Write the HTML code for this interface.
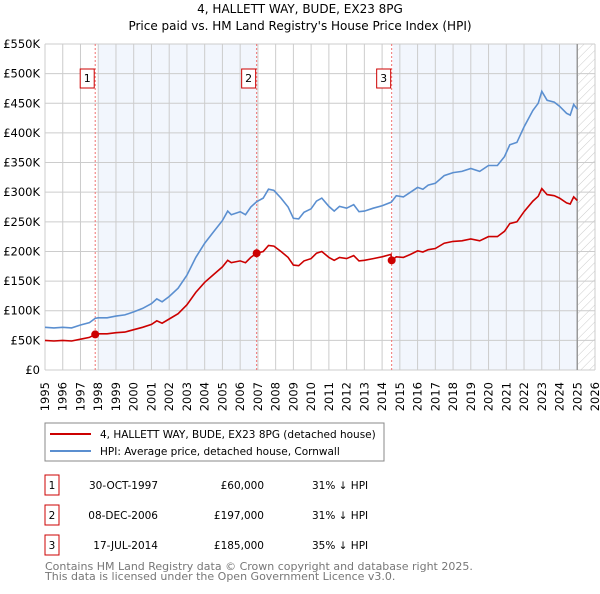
<!DOCTYPE html>
<html><head><meta charset="utf-8"><style>
body{margin:0;background:#fff;font-family:"DejaVu Sans","Liberation Sans",sans-serif;}
svg text{font-family:"DejaVu Sans","Liberation Sans",sans-serif;}
</style></head><body>
<svg id="c" width="600" height="590" viewBox="0 0 600 590" xmlns="http://www.w3.org/2000/svg">
<defs><pattern id="hatch" width="6" height="6" patternUnits="userSpaceOnUse" patternTransform="rotate(45)"><line x1="0" y1="0" x2="0" y2="6" stroke="#ccc" stroke-width="1"/></pattern></defs>
<text x="300" y="13" text-anchor="middle" font-size="12">4, HALLETT WAY, BUDE, EX23 8PG</text>
<text x="300" y="30" text-anchor="middle" font-size="12">Price paid vs. HM Land Registry's House Price Index (HPI)</text>
<g id="grid"></g><g id="marks"></g>
<rect x="45" y="423" width="339" height="38" fill="#fff" stroke="#888"/>
<line x1="50" y1="434" x2="91" y2="434" stroke="#cc0000" stroke-width="2"/>
<text x="100" y="438" font-size="10.5">4, HALLETT WAY, BUDE, EX23 8PG (detached house)</text>
<line x1="50" y1="451" x2="91" y2="451" stroke="#5b8fd0" stroke-width="2"/>
<text x="100" y="455" font-size="10.5">HPI: Average price, detached house, Cornwall</text>
<g id="table" font-size="10.5"></g>
<text x="45" y="570" font-size="11" fill="#777">Contains HM Land Registry data © Crown copyright and database right 2025.</text>
<text x="45" y="580" font-size="11" fill="#777">This data is licensed under the Open Government Licence v3.0.</text>
</svg>
<script>
const years=[1995,1995.5,1996,1996.5,1997,1997.5,1997.83,1998,1998.5,1999,1999.5,2000,2000.5,2001,2001.3,2001.6,2002,2002.5,2003,2003.5,2004,2004.5,2005,2005.3,2005.5,2006,2006.3,2006.6,2006.93,2007.3,2007.6,2007.9,2008.3,2008.7,2009,2009.3,2009.6,2010,2010.3,2010.6,2011,2011.3,2011.6,2012,2012.4,2012.7,2013,2013.5,2014,2014.5,2014.54,2014.8,2015.2,2015.6,2016,2016.3,2016.6,2017,2017.5,2018,2018.5,2019,2019.5,2020,2020.5,2020.9,2021.2,2021.6,2022,2022.5,2022.8,2023,2023.3,2023.7,2024,2024.4,2024.6,2024.8,2025];
const hpi=[72,71,72,71,76,80,87,88,88,91,93,98,104,112,120,115,124,138,160,190,214,233,252,268,262,267,262,275,284,290,305,303,290,275,256,255,266,272,285,290,276,268,276,273,279,267,268,273,277,283,284,294,292,300,308,305,312,315,328,333,335,340,335,345,345,360,380,384,410,438,450,470,455,452,445,433,430,448,440];
const prop=[50,49,50,49,52,55,60,61,61,63,64,68,72,77,83,79,86,95,110,131,148,161,174,185,181,184,181,190,197,200,210,209,200,190,177,176,184,188,197,200,190,185,190,188,193,184,185,188,191,195,185,191,190,195,201,199,203,205,214,217,218,221,218,225,225,234,247,250,267,285,293,306,296,294,290,282,280,292,286];
const saleYears=[1997.83,2006.93,2014.54];
const salePrices=[60,197,185];
const saleDates=["30-OCT-1997","08-DEC-2006","17-JUL-2014"];
const salePriceLabels=["£60,000","£197,000","£185,000"];
const saleDiffs=["31% ↓ HPI","31% ↓ HPI","35% ↓ HPI"];
const yTicks=[0,50,100,150,200,250,300,350,400,450,500,550];
const yTickLabels=["£0","£50K","£100K","£150K","£200K","£250K","£300K","£350K","£400K","£450K","£500K","£550K"];
const xTicks=[1995,1996,1997,1998,1999,2000,2001,2002,2003,2004,2005,2006,2007,2008,2009,2010,2011,2012,2013,2014,2015,2016,2017,2018,2019,2020,2021,2022,2023,2024,2025,2026];
const NS="http://www.w3.org/2000/svg";
const X0=45,X1=595,Y0=370,Y1=44;
const xs=y=>X0+(y-1995)/(2026-1995)*(X1-X0);
const ys=v=>Y0-v/550*(Y0-Y1);
function mk(t,a,p){const e=document.createElementNS(NS,t);for(const k in a)e.setAttribute(k,a[k]);p.appendChild(e);return e;}
const g=document.getElementById('grid'),m=document.getElementById('marks'),tb=document.getElementById('table');
let e;
e=mk('rect',{x:xs(1998),y:Y1,width:xs(2006.93)-xs(1998),height:Y0-Y1,fill:'#f2f6fd'},g);


e=mk('rect',{x:xs(2014.6),y:Y1,width:xs(2025)-xs(2014.6),height:Y0-Y1,fill:'#f2f6fd'},g);


e=mk('rect',{x:xs(2025),y:Y1,width:X1-xs(2025),height:Y0-Y1,fill:'url(#hatch)'},g);


xTicks.forEach(t=>{e=mk('line',{x1:xs(t),x2:xs(t),y1:Y1,y2:Y0,stroke:'#ccc'},g);


const lx=xs(t)+4,ly=382;
e=mk('text',{x:lx,y:ly,'text-anchor':'end','font-size':'11.5',transform:'rotate(-90 '+lx+' '+ly+')'},g);e.textContent=t;

});
yTicks.forEach((t,i)=>{e=mk('line',{x1:X0,x2:X1,y1:ys(t),y2:ys(t),stroke:'#ccc'},g);


e=mk('text',{x:40,y:ys(t)+4,'text-anchor':'end','font-size':'11.5'},g);e.textContent=yTickLabels[i];

});
e=mk('line',{x1:xs(2025),x2:xs(2025),y1:Y1,y2:Y0,stroke:'#999','stroke-width':1.5},g);


saleYears.forEach((s,i)=>{e=mk('line',{x1:xs(s),x2:xs(s),y1:Y1,y2:Y0,stroke:'#f07070','stroke-dasharray':'2,2'},m);


e=mk('rect',{x:xs(s)-15,y:69,width:14,height:19,fill:'#fff',stroke:'#cc0000'},m);


e=mk('text',{x:xs(s)-8,y:82,'text-anchor':'middle','font-size':'11'},m);e.textContent=i+1;

});
const path=arr=>arr.map((v,i)=>(i?'L':'M')+xs(years[i]).toFixed(1)+','+ys(v).toFixed(1)).join('');
e=mk('path',{d:path(hpi),fill:'none',stroke:'#5b8fd0','stroke-width':1.6},m);


e=mk('path',{d:path(prop),fill:'none',stroke:'#cc0000','stroke-width':1.6},m);


saleYears.forEach((s,i)=>{e=mk('circle',{cx:xs(s),cy:ys(salePrices[i]),r:4,fill:'#cc0000'},m);

});
saleDates.forEach((d,i)=>{const y=475+i*30;
e=mk('rect',{x:45,y:y,width:14,height:20,fill:'#fff',stroke:'#cc0000'},tb);


e=mk('text',{x:52,y:y+14,'text-anchor':'middle'},tb);e.textContent=i+1;


e=mk('text',{x:158,y:y+14,'text-anchor':'end'},tb);e.textContent=d;


e=mk('text',{x:264,y:y+14,'text-anchor':'end'},tb);e.textContent=salePriceLabels[i];


e=mk('text',{x:312,y:y+14},tb);e.textContent=saleDiffs[i];

});
</script>
</body></html>
